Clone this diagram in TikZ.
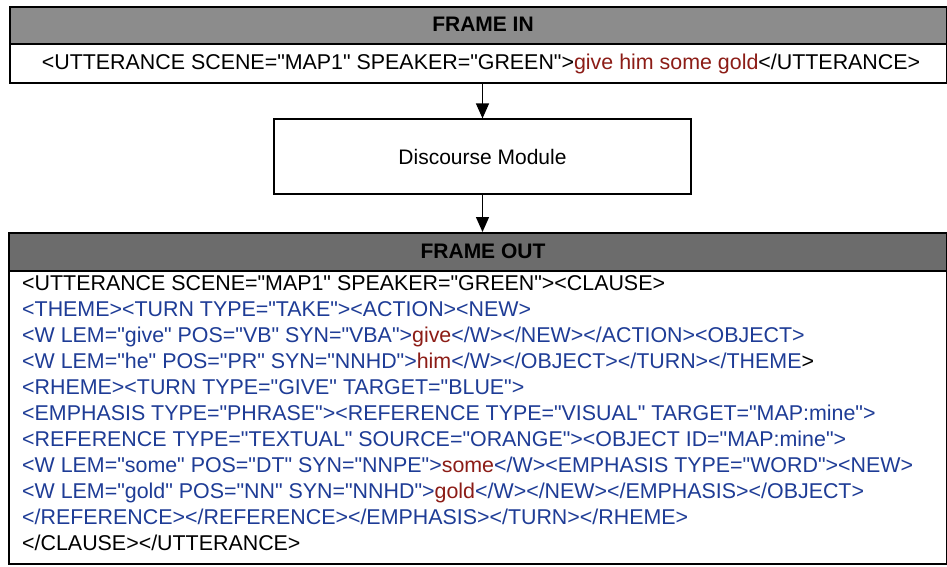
\documentclass[tikz,border=0pt]{standalone}
\usepackage{fontspec}
\setmainfont{Liberation Sans}
\newfontfamily\xmlfont{Liberation Sans}
\usetikzlibrary{arrows.meta}
\definecolor{tagblue}{RGB}{30,60,150}
\definecolor{wordred}{RGB}{140,28,22}
\definecolor{hdrin}{RGB}{140,140,140}
\definecolor{hdrout}{RGB}{108,108,108}
\newcommand{\redword}[1]{\textcolor{wordred}{#1}}
\tikzset{
  frame/.style={draw=black, line width=1.6pt, inner sep=0pt, anchor=north west},
  hdrbox/.style={frame},
  plainbox/.style={draw=black, line width=1.2pt, inner sep=0pt, fill=white},
  ln/.style={anchor=base west, inner sep=0pt, font=\xmlfont\fontsize{21.4}{26}\selectfont},
  blue/.style={ln, text=tagblue},
  title/.style={inner sep=0pt, font=\xmlfont\fontsize{21}{24}\selectfont\bfseries},
  conn/.style={line width=1.3pt, -{Triangle[length=15pt,width=13pt]}}
}
\begin{document}
\xmlfont
\begin{tikzpicture}[x=1pt,y=-1pt]
\useasboundingbox (0,0) rectangle (947,566);
\fill[white] (0,0) rectangle (947,566);
% FRAME IN
\node[hdrbox, fill=hdrin, minimum width=937pt, minimum height=37pt] (inhdr) at (9,6) {};
\node[title] (intitle) at (483,24.5) {FRAME IN};
\node[frame, fill=white, minimum width=937pt, minimum height=39pt] (inrow) at (9,43) {};
\node[inner sep=0pt, anchor=base, font=\xmlfont\fontsize{21.4}{26}\selectfont] (intext) at (481,69.5)
  {<UTTERANCE SCENE="MAP1" SPEAKER="GREEN">\redword{give him some gold}</UTTERANCE>};
% Discourse module
\node[plainbox, minimum width=417pt, minimum height=75pt, font=\xmlfont\fontsize{21}{24}\selectfont] (dm) at (482.5,156.5) {Discourse Module};
% FRAME OUT
\node[hdrbox, fill=hdrout, minimum width=938pt, minimum height=38pt] (outhdr) at (8,232) {};
\node[title] (outtitle) at (483,251) {FRAME OUT};
\node[frame, fill=white, minimum width=938pt, minimum height=293pt] (outbox) at (8,270) {};
% connectors
\draw[conn] (dm.north |- inrow.south) -- (dm.north);
\draw[conn] (dm.south) -- (dm.south |- outhdr.north);
% output lines
\node[ln] (l1) at (22,290.5) {<UTTERANCE SCENE="MAP1" SPEAKER="GREEN"><CLAUSE>};
\node[blue] (l2) at (22,316.5) {<THEME><TURN TYPE="TAKE"><ACTION><NEW>};
\node[blue] (l3) at (22,342.5) {<W LEM="give" POS="VB" SYN="VBA">\redword{give}</W></NEW></ACTION><OBJECT>};
\node[blue] (l4) at (22,368.5) {<W LEM="he" POS="PR" SYN="NNHD">\redword{him}</W></OBJECT></TURN></THEME\textcolor{black}{>}};
\node[blue] (l5) at (22,394.5) {<RHEME><TURN TYPE="GIVE" TARGET="BLUE">};
\node[blue] (l6) at (22,420.5) {<EMPHASIS TYPE="PHRASE"><REFERENCE TYPE="VISUAL" TARGET="MAP:mine">};
\node[blue] (l7) at (22,446.5) {<REFERENCE TYPE="TEXTUAL" SOURCE="ORANGE"><OBJECT ID="MAP:mine">};
\node[blue] (l8) at (22,472.5) {<W LEM="some" POS="DT" SYN="NNPE">\redword{some}</W><EMPHASIS TYPE="WORD"><NEW>};
\node[blue] (l9) at (22,498.5) {<W LEM="gold" POS="NN" SYN="NNHD">\redword{gold}</W></NEW></EMPHASIS></OBJECT>};
\node[blue] (l10) at (22,524.5) {</REFERENCE></REFERENCE></EMPHASIS></TURN></RHEME>};
\node[ln] (l11) at (22,550.5) {</CLAUSE></UTTERANCE>};
\end{tikzpicture}
\end{document}
